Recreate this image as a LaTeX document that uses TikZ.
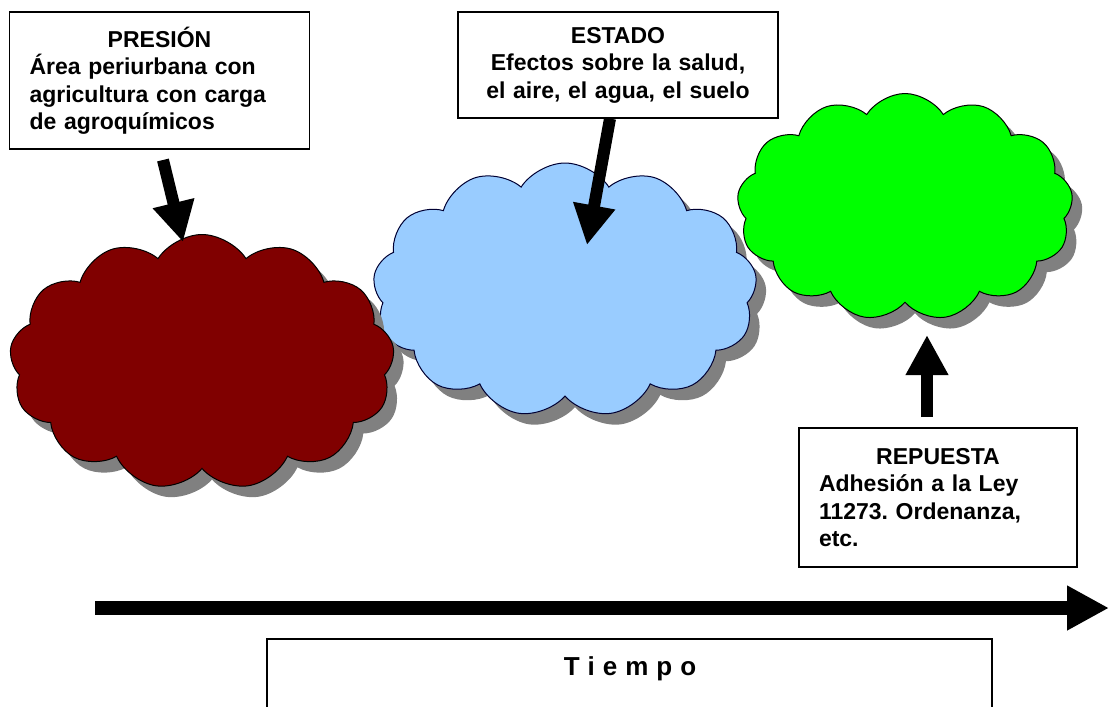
\documentclass[tikz,border=0pt]{standalone}
\usepackage{fontspec}
\setmainfont{Liberation Sans}
\usetikzlibrary{shapes.symbols,shadows,arrows.meta}
\frenchspacing

\definecolor{presred}{HTML}{800000}
\definecolor{estblue}{HTML}{99CCFF}
\definecolor{respgreen}{HTML}{00FF00}
\definecolor{shade}{HTML}{808080}

\begin{document}
\begin{tikzpicture}[x=1pt, y=-1pt,
    every node/.style={font=\bfseries\fontsize{23}{27.5}\selectfont},
    labelbox/.style={draw, line width=1.2pt, fill=white, inner xsep=20pt, inner ysep=0pt},
    nube/.style={cloud, cloud puffs=13, cloud puff arc=115, cloud ignores aspect,
        draw=black, line width=1pt,
        drop shadow={shadow xshift=10pt, shadow yshift=-11pt, fill=shade, opacity=1}},
    blockarrow/.style={line width=12pt, -{Triangle[length=40pt,width=40pt]}}]
        \useasboundingbox (0,0) rectangle (1109,707);
        \clip (0,0) rectangle (1109,707);

        \node[nube, fill=estblue, draw=black!80!blue, minimum width=384pt, minimum height=254pt] (estnube) at (565,290) {};
        \node[nube, fill=presred, minimum width=385pt, minimum height=255pt] (presnube) at (202,362) {};
        \node[nube, fill=respgreen, minimum width=336pt, minimum height=227pt] (respnube) at (905,207) {};

        \node[labelbox, text width=260pt, minimum height=137pt, align=left] (presion) at (159.5,80.5)
            {\makebox[\hsize]{PRESIÓN}\\Área periurbana con\\agricultura con carga\\de agroquímicos};
        \node[labelbox, text width=280pt, minimum height=106pt, align=center] (estado) at (618,65)
            {ESTADO\\Efectos sobre la salud,\\el aire, el agua, el suelo};
        \node[labelbox, text width=238pt, minimum height=139pt, align=left] (respuesta) at (938,497.5)
            {\makebox[\hsize]{REPUESTA}\\Adhesión a la Ley\\11273. Ordenanza,\\etc.};

        \coordinate (pres-tail) at (163,160);
        \coordinate (pres-tip) at (183,242);
        \coordinate (est-tip) at (587,245);
        \coordinate (resp-tail) at (927,417);
        \coordinate (resp-tip) at (927,335);
        \coordinate (t-start) at (95,608);
        \coordinate (t-end) at (1109,608);

        \draw[blockarrow] (pres-tail) -- (pres-tip);
        \draw[blockarrow] ([xshift=-8pt]estado.south) -- (est-tip);
        \draw[blockarrow] (resp-tail) -- (resp-tip);
        \draw[line width=14pt, -{Triangle[length=42pt,width=42pt]}] (t-start) -- (t-end);

        \draw[line width=1.2pt] (267,639) rectangle (992,740);
        \node[anchor=base, font=\bfseries\fontsize{26}{30}\selectfont] (tiempo) at (630,675)
            {T\kern8pt i\kern8pt e\kern8pt m\kern8pt p\kern8pt o};
    \end{tikzpicture}
\end{document}
